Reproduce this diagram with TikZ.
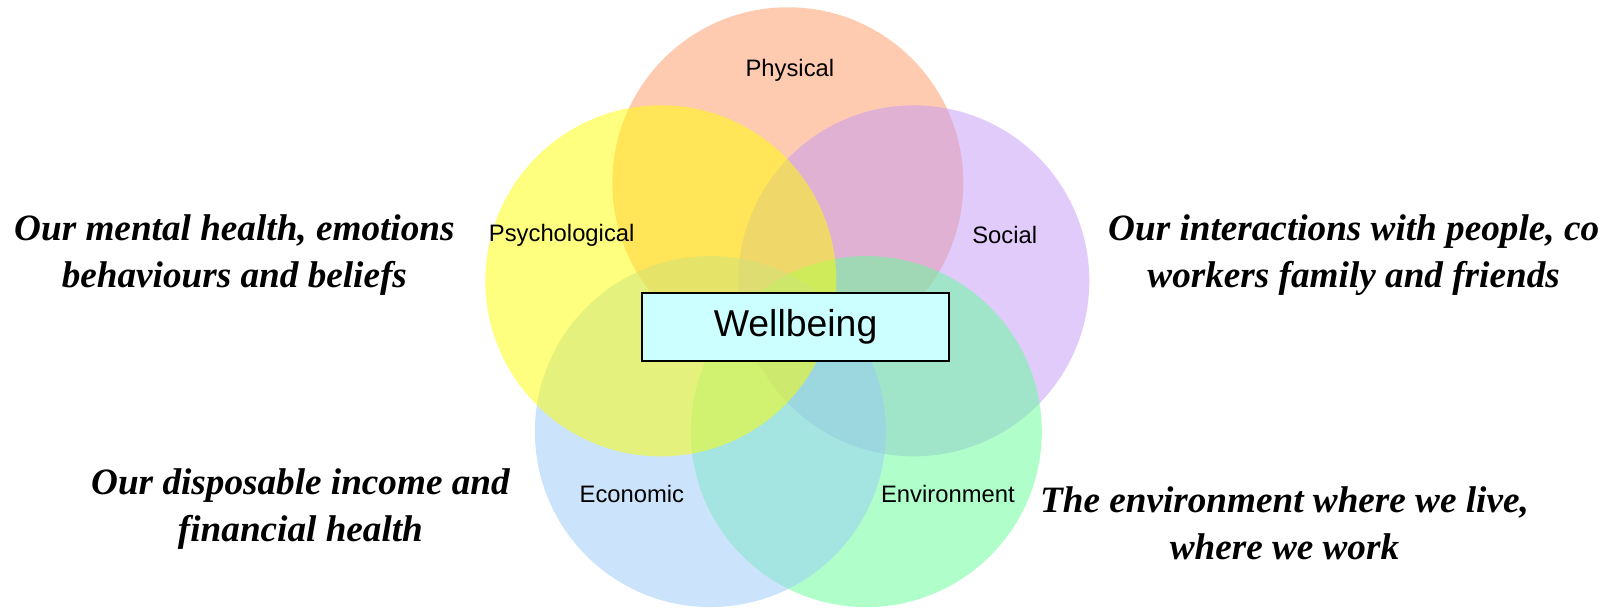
\documentclass[tikz,border=0pt]{standalone}
\usepackage{fontspec}
\setmainfont{Liberation Serif}
\newfontfamily\arialfont{Liberation Sans}
\definecolor{cphys}{RGB}{255,151,97}
\definecolor{csoc}{RGB}{195,151,247}
\definecolor{cenv}{RGB}{97,255,151}
\definecolor{ceco}{RGB}{153,201,247}
\definecolor{cpsy}{RGB}{255,255,0}
\definecolor{cbox}{RGB}{204,255,255}
\tikzset{
  ring/.style={circle, minimum size=351pt, inner sep=0pt, fill opacity=0.5, draw=none},
  lbl/.style={font=\arialfont\fontsize{23.8}{27}\selectfont, inner sep=0pt},
  desc/.style={font=\fontsize{37.2}{47.5}\selectfont\bfseries\itshape, align=center, inner sep=0pt},
  wbox/.style={draw=black, line width=2pt, fill=cbox, minimum width=307pt, minimum height=68pt, font=\arialfont\fontsize{37.4}{40}\selectfont}
}
\begin{document}
\begin{tikzpicture}[x=1.0325pt,y=-1.0325pt]
\useasboundingbox (0,0) rectangle (1568,589.8);
\node[ring, fill=cphys] (phys) at (763,177) {};
\node[ring, fill=csoc] (soc) at (885,272) {};
\node[ring, fill=cenv] (env) at (839,418) {};
\node[ring, fill=ceco] (eco) at (688,418) {};
\node[ring, fill=cpsy] (psy) at (640,272) {};
\node[lbl] (lphys) at (765,68) {Physical};
\node[lbl] (lpsy) at (544,228) {Psychological};
\node[lbl] (lsoc) at (973,228) {Social};
\node[lbl] (leco) at (612,478) {Economic};
\node[lbl] (lenv) at (918,478) {Environment};
\node[wbox] (wb) at (770.5,317) {Wellbeing};
\node[desc] (dpsy) at (227,247) {Our mental health, emotions\\behaviours and beliefs};
\node[desc] (dsoc) at (1311,247) {Our interactions with people, co\\workers family and friends};
\node[desc] (deco) at (291,493) {Our disposable income and\\financial health};
\node[desc] (denv) at (1244,507) {The environment where we live,\\where we work};
\end{tikzpicture}
\end{document}
